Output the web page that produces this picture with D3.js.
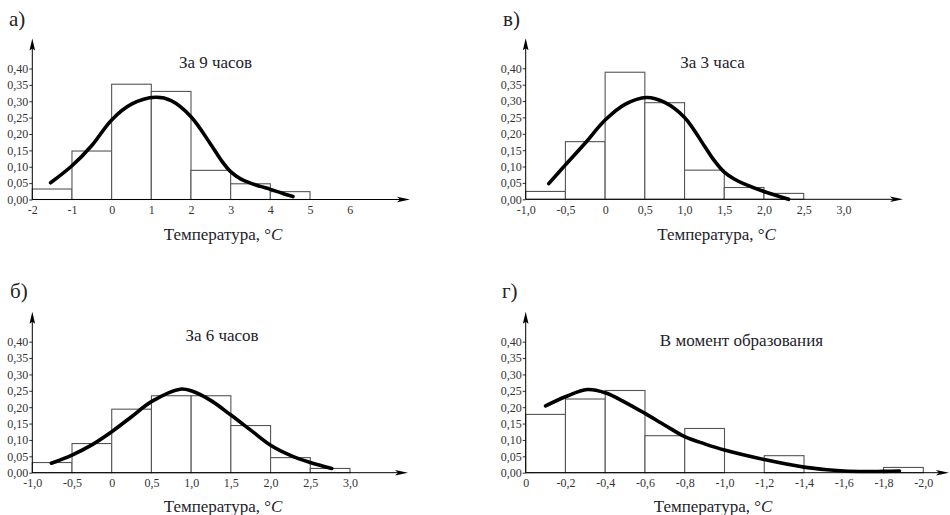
<!DOCTYPE html>
<html lang="ru">
<head>
<meta charset="utf-8">
<script src="https://cdn.jsdelivr.net/npm/d3@7"></script>
<style>
  html, body { margin: 0; padding: 0; background: #fff; }
  svg { display: block; }
  .tick text { font-family: "Liberation Serif", "Times New Roman", "DejaVu Serif", serif; fill: #333; }
</style>
</head>
<body>
<svg id="chart" width="950" height="515"></svg>
<script>
// ---- Frequencies of temperature (histogram bins) and fitted curves ----

// а) За 9 часов
const edges9h = [-2, -1, 0, 1, 2, 3, 4, 5];
const freq9h = [0.032, 0.148, 0.352, 0.330, 0.089, 0.048, 0.024];
const curve9h = [[-1.54, 0.051], [-1.0, 0.103], [-0.5, 0.165], [0, 0.243], [0.5, 0.291],
  [1.1, 0.312], [1.5, 0.302], [2.0, 0.253], [2.5, 0.168], [2.75, 0.122], [3.0, 0.085],
  [3.25, 0.063], [3.5, 0.050], [3.75, 0.040], [4.0, 0.031], [4.3, 0.019], [4.57, 0.009]];
const xTicks9h = [-2, -1, 0, 1, 2, 3, 4, 5, 6];
const xLabels9h = ["-2", "-1", "0", "1", "2", "3", "4", "5", "6"];

// в) За 3 часа
const edges3h = [-1, -0.5, 0, 0.5, 1, 1.5, 2, 2.5];
const freq3h = [0.024, 0.176, 0.388, 0.295, 0.089, 0.036, 0.018];
const curve3h = [[-0.71, 0.048], [-0.5, 0.105], [-0.25, 0.172], [0, 0.242], [0.25, 0.290],
  [0.52, 0.311], [0.75, 0.296], [1.0, 0.250], [1.25, 0.163], [1.375, 0.118], [1.5, 0.083],
  [1.625, 0.062], [1.75, 0.047], [2.0, 0.024], [2.31, 0.0]];
const xTicks3h = [-1, -0.5, 0, 0.5, 1, 1.5, 2, 2.5, 3];
const xLabels3h = ["-1,0", "-0,5", "0", "0,5", "1,0", "1,5", "2,0", "2,5", "3,0"];

// б) За 6 часов
const edges6h = [-1, -0.5, 0, 0.5, 1, 1.5, 2, 2.5, 3];
const freq6h = [0.031, 0.089, 0.194, 0.235, 0.235, 0.144, 0.046, 0.013];
const curve6h = [[-0.76, 0.029], [-0.5, 0.054], [-0.25, 0.085], [0, 0.125], [0.25, 0.171],
  [0.5, 0.217], [0.86, 0.255], [1.0, 0.250], [1.25, 0.220], [1.5, 0.176], [1.75, 0.130],
  [2.0, 0.084], [2.25, 0.053], [2.5, 0.031], [2.77, 0.013]];
const xTicks6h = [-1, -0.5, 0, 0.5, 1, 1.5, 2, 2.5, 3];
const xLabels6h = ["-1,0", "-0,5", "0", "0,5", "1,0", "1,5", "2,0", "2,5", "3,0"];

// г) В момент образования
const edges0h = [0, -0.2, -0.4, -0.6, -0.8, -1.0, -1.2, -1.4, -1.6, -1.8, -2.0];
const freq0h = [0.178, 0.225, 0.251, 0.113, 0.135, 0, 0.052, 0, 0, 0.016];
const curve0h = [[-0.10, 0.204], [-0.2, 0.232], [-0.31, 0.254], [-0.4, 0.244], [-0.5, 0.215],
  [-0.6, 0.181], [-0.7, 0.145], [-0.8, 0.110], [-0.9, 0.088], [-1.0, 0.069], [-1.2, 0.040],
  [-1.4, 0.017], [-1.6, 0.005], [-1.8, 0.004], [-1.88, 0.005]];
const xTicks0h = [0, -0.2, -0.4, -0.6, -0.8, -1.0, -1.2, -1.4, -1.6, -1.8, -2.0];
const xLabels0h = ["0", "-0,2", "-0,4", "-0,6", "-0,8", "-1,0", "-1,2", "-1,4", "-1,6", "-1,8", "-2,0"];

// Shared frequency axis
const yTicks = [0, 0.05, 0.10, 0.15, 0.20, 0.25, 0.30, 0.35, 0.40];
const yLabels = ["0,00", "0,05", "0,10", "0,15", "0,20", "0,25", "0,30", "0,35", "0,40"];

const axisTitle = "Температура, °";

// ---- Panel layout ----
const panels = [
  { letter: "а)", title: "За 9 часов", edges: edges9h, freq: freq9h, curve: curve9h,
    xTicks: xTicks9h, xLabels: xLabels9h,
    xr: [32.3, 310], y0: 199.5, xEnd: 410,
    letterPos: [9, 26], titlePos: [215.5, 68], axisTitlePos: [223, 240] },
  { letter: "в)", title: "За 3 часа", edges: edges3h, freq: freq3h, curve: curve3h,
    xTicks: xTicks3h, xLabels: xLabels3h,
    xr: [525.7, 803.7], y0: 199.3, xEnd: 903,
    letterPos: [503, 26], titlePos: [712.5, 68], axisTitlePos: [716.5, 240] },
  { letter: "б)", title: "За 6 часов", edges: edges6h, freq: freq6h, curve: curve6h,
    xTicks: xTicks6h, xLabels: xLabels6h,
    xr: [32.3, 350], y0: 472.7, xEnd: 408,
    letterPos: [10, 298], titlePos: [222, 341], axisTitlePos: [223, 512] },
  { letter: "г)", title: "В момент образования", edges: edges0h, freq: freq0h, curve: curve0h,
    xTicks: xTicks0h, xLabels: xLabels0h,
    xr: [525.7, 923.3], y0: 472.7, xEnd: 949,
    letterPos: [502, 298], titlePos: [741.5, 346], axisTitlePos: [713, 512] }
];

const svg = d3.select("#chart");
const serif = "'Liberation Serif', 'Times New Roman', 'DejaVu Serif', serif";

panels.forEach(p => {
  const g = svg.append("g");
  const e = p.edges;
  const x = d3.scaleLinear().domain([e[0], e[e.length - 1]]).range(p.xr);
  const y = d3.scaleLinear().domain([0, 0.40]).range([p.y0, p.y0 - 131]);
  const ax = p.xr[0];

  // histogram bars
  const bins = p.freq.map((f, i) => ({ a: e[i], b: e[i + 1], f })).filter(d => d.f > 0);
  g.selectAll("rect.bar").data(bins).join("rect")
    .attr("class", "bar")
    .attr("x", d => Math.min(x(d.a), x(d.b)))
    .attr("width", d => Math.abs(x(d.b) - x(d.a)))
    .attr("y", d => y(d.f))
    .attr("height", d => y(0) - y(d.f))
    .attr("fill", "#fff")
    .attr("stroke", "#555")
    .attr("stroke-width", 1.1);

  // y axis
  const yAxis = d3.axisLeft(y).tickValues(yTicks)
    .tickFormat((d, i) => yLabels[i]).tickSize(3).tickPadding(1);
  const yg = g.append("g").attr("transform", `translate(${ax},0)`).call(yAxis);
  yg.attr("font-family", serif);
  yg.select(".domain").remove();
  yg.selectAll(".tick line").attr("stroke", "#333");
  yg.selectAll(".tick text").attr("font-size", 12);

  // x axis labels
  const xAxis = d3.axisBottom(x).tickValues(p.xTicks)
    .tickFormat((d, i) => p.xLabels[i]).tickSize(0).tickPadding(6);
  const xg = g.append("g").attr("transform", `translate(0,${p.y0})`).call(xAxis);
  xg.attr("font-family", serif);
  xg.select(".domain").remove();
  xg.selectAll(".tick text").attr("font-size", 12);

  // axis lines with arrowheads
  const yTop = p.y0 - 161;
  g.append("line").attr("x1", ax).attr("x2", ax).attr("y1", p.y0).attr("y2", yTop + 6)
    .attr("stroke", "#000").attr("stroke-width", 1);
  g.append("path")
    .attr("d", `M${ax},${yTop} L${ax + 2.8},${yTop + 12} L${ax},${yTop + 10} L${ax - 2.8},${yTop + 12} Z`)
    .attr("fill", "#000");
  g.append("line").attr("x1", ax).attr("x2", p.xEnd - 6).attr("y1", p.y0).attr("y2", p.y0)
    .attr("stroke", "#000").attr("stroke-width", 1);
  g.append("path")
    .attr("d", `M${p.xEnd},${p.y0} L${p.xEnd - 13},${p.y0 - 2.8} L${p.xEnd - 10},${p.y0} L${p.xEnd - 13},${p.y0 + 2.8} Z`)
    .attr("fill", "#000");

  // fitted curve
  const line = d3.line().x(d => x(d[0])).y(d => y(d[1])).curve(d3.curveCatmullRom.alpha(0.5));
  g.append("path").datum(p.curve)
    .attr("d", line)
    .attr("fill", "none")
    .attr("stroke", "#000")
    .attr("stroke-width", 3.6)
    .attr("stroke-linecap", "round")
    .attr("stroke-linejoin", "round");

  // texts
  g.append("text").attr("x", p.letterPos[0]).attr("y", p.letterPos[1])
    .attr("font-family", serif).attr("font-size", 21).attr("fill", "#222")
    .text(p.letter);
  g.append("text").attr("x", p.titlePos[0]).attr("y", p.titlePos[1])
    .attr("text-anchor", "middle")
    .attr("font-family", serif).attr("font-size", 17).attr("fill", "#1d1d2b")
    .text(p.title);
  const t = g.append("text").attr("x", p.axisTitlePos[0]).attr("y", p.axisTitlePos[1])
    .attr("text-anchor", "middle")
    .attr("font-family", serif).attr("font-size", 17).attr("fill", "#1d1d2b");
  t.append("tspan").text(axisTitle);
  t.append("tspan").attr("font-style", "italic").text("C");
});
</script>
</body>
</html>
